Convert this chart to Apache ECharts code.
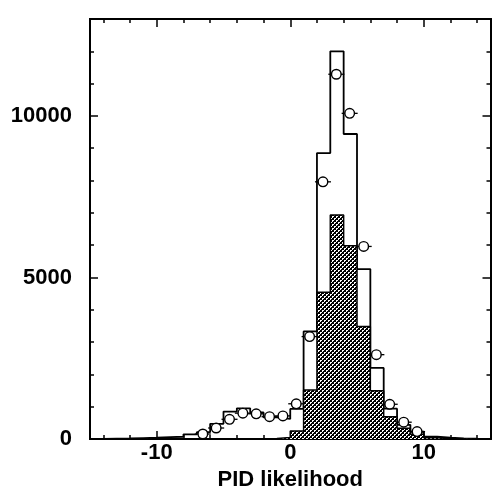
<!DOCTYPE html>
<html>
<head>
<meta charset="utf-8">
<script src="https://cdn.jsdelivr.net/npm/echarts@6/dist/echarts.min.js"></script>
<style>html,body{margin:0;padding:0;background:#fff}#chart{width:492px;height:489px}</style>
</head>
<body>
<div id="chart"></div>
<script>
// bin edges (-15 .. 15, width 1)
const binEdges = [-15,-14,-13,-12,-11,-10,-9,-8,-7,-6,-5,-4,-3,-2,-1,0,1,2,3,4,5,6,7,8,9,10,11,12,13,14,15];
// open histogram (all)
const openCounts = [5,10,15,30,40,60,70,145,210,470,850,950,820,670,620,930,3330,8850,12000,9440,5260,2200,940,440,225,70,40,15,8,5];
// hatched histogram
const hatchCounts = [0,0,0,2,4,5,5,5,5,5,5,5,8,15,45,250,1520,4540,6930,5980,3480,1490,690,330,150,35,10,4,2,0];
// data points (circles)
const pointX = [-6.55,-5.55,-4.55,-3.55,-2.55,-1.55,-0.55,0.45,1.45,2.45,3.45,4.45,5.5,6.45,7.45,8.5,9.5];
const pointY = [155,340,610,800,780,690,715,1090,3170,7960,11290,10080,5960,2610,1075,520,230];
// ticks
const xMajor = [-10,0,10];
const xMinor = [-14,-12,-8,-6,-4,-2,2,4,6,8,12,14];
const yMajor = [0,5000,10000];
const yMinor = [1000,2000,3000,4000,6000,7000,8000,9000,11000,12000];
const xLabel = 'PID likelihood';

function stepData(edges, counts){
  const d = counts.map((c,i)=>[edges[i], c]);
  d.push([edges[edges.length-1], counts[counts.length-1]]);
  return d;
}

const pc = document.createElement('canvas'); pc.width = 4; pc.height = 4;
const pctx = pc.getContext('2d');
pctx.fillStyle = '#000'; pctx.fillRect(0,0,4,4);
pctx.fillStyle = '#fff';
[[0,0],[1,0],[0,1],[2,2],[3,2],[2,3]].forEach(p=>pctx.fillRect(p[0],p[1],1,1));

const FONT = "'Liberation Sans', Arial, Helvetica, sans-serif";
const XMIN=-15, XMAX=15, YMIN=0, YMAX=13000;

function xAx(pos, ticks, len, labels){
  return {
    type:'value', position:pos, min:XMIN, max:XMAX,
    axisLine:{show:true, onZero:false, lineStyle:{color:'#000', width:2}},
    axisTick:{show:true, inside:true, length:len, customValues:ticks, lineStyle:{color:'#000', width:1.5}},
    axisLabel: labels ? {show:true, customValues:ticks, margin:3, color:'#000', fontFamily:FONT, fontWeight:'bold', fontSize:22,
      formatter:v=>String(v)} : {show:false},
    splitLine:{show:false}
  };
}
function yAx(pos, ticks, len, labels){
  return {
    type:'value', position:pos, min:YMIN, max:YMAX,
    axisLine:{show:true, onZero:false, lineStyle:{color:'#000', width:2}},
    axisTick:{show:true, inside:true, length:len, customValues:ticks, lineStyle:{color:'#000', width:1.5}},
    axisLabel: labels ? {show:true, customValues:ticks, margin:18, color:'#000', fontFamily:FONT, fontWeight:'bold', fontSize:22,
      formatter:v=>String(v)} : {show:false},
    splitLine:{show:false}
  };
}

const xb = xAx('bottom', xMajor, 8, true);
xb.name = xLabel; xb.nameLocation = 'middle'; xb.nameGap = 30; xb.nameMoveOverlap = false;
xb.nameTextStyle = {color:'#000', fontFamily:FONT, fontWeight:'bold', fontSize:22};

const chart = echarts.init(document.getElementById('chart'), null, {renderer:'canvas'});
chart.setOption({
  animation:false,
  backgroundColor:'#fff',
  grid:{left:90, right:1.5, top:19, bottom:50, containLabel:false, outerBoundsMode:'none'},
  xAxis:[xb, xAx('bottom', xMinor, 4, false), xAx('top', xMajor, 8, false), xAx('top', xMinor, 4, false)],
  yAxis:[yAx('left', yMajor, 8, true), yAx('left', yMinor, 4, false), yAx('right', yMajor, 8, false), yAx('right', yMinor, 4, false)],
  series:[
    {type:'line', step:'end', symbol:'none', data:stepData(binEdges, openCounts), z:2,
     lineStyle:{color:'#000', width:1.8}},
    {type:'line', step:'end', symbol:'none', data:stepData(binEdges, hatchCounts), z:3,
     lineStyle:{color:'#000', width:1.5},
     areaStyle:{color:{image:pc, repeat:'repeat'}, opacity:1}},
    {type:'custom', z:4, data:pointX.map((x,i)=>[x, pointY[i]]), encode:{x:0, y:1},
     renderItem:function(params, api){
       const x = api.value(0), y = api.value(1);
       const c = api.coord([x,y]);
       const l = api.coord([x-0.6,y]);
       const r = api.coord([x+0.6,y]);
       return {type:'group', children:[
         {type:'line', shape:{x1:l[0],y1:l[1],x2:r[0],y2:r[1]}, style:{stroke:'#000', lineWidth:1.3}},
         {type:'circle', shape:{cx:c[0],cy:c[1],r:4.8}, style:{fill:'#fff', stroke:'#000', lineWidth:1.4}}
       ]};
     }}
  ]
});
</script>
</body>
</html>
